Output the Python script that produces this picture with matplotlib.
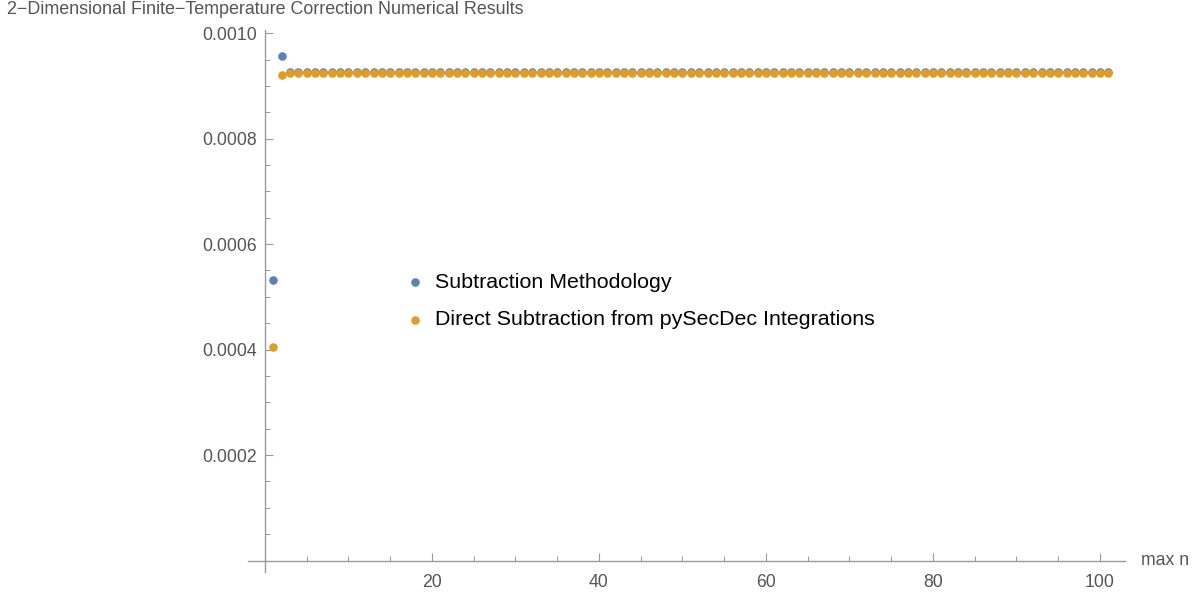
import numpy as np
import matplotlib
matplotlib.use("Agg")
import matplotlib.pyplot as plt
import matplotlib.transforms as mtransforms
from matplotlib.ticker import MultipleLocator, FixedLocator, FuncFormatter

plt.rcParams['font.family'] = ['Liberation Sans', 'DejaVu Sans']

# max n values
n_values = list(range(1, 102))

# Subtraction methodology results
subtraction = [0.000531, 0.000956] + [0.0009255] * 99
# Direct subtraction from pySecDec integrations
direct = [0.000404, 0.000921] + [0.000925] * 99

title_text = "2\u2212Dimensional Finite\u2212Temperature Correction Numerical Results"
series_labels = ["Subtraction Methodology", "Direct Subtraction from pySecDec Integrations"]
x_label = "max n"
y_tick_values = [0.0002, 0.0004, 0.0006, 0.0008, 0.0010]
x_tick_values = [20, 40, 60, 80, 100]

blue = "#5E81B5"
orange = "#E19C24"
axis_gray = "#9a9a9a"
label_gray = "#555555"

W, H = 1200, 592
fig = plt.figure(figsize=(W / 100, H / 100), dpi=100)
ax = fig.add_axes([248.3 / W, (H - 572) / H, (1125 - 248.3) / W, (572 - 30) / H])

ax.scatter(n_values, subtraction, s=38, color=blue, linewidths=0, zorder=3, label=series_labels[0])
ax.scatter(n_values, direct, s=38, color=orange, linewidths=0, zorder=4, label=series_labels[1])

ax.set_xlim(-2, 103)
ax.set_ylim(-0.0000218, 0.001006)

for side in ("top", "right"):
    ax.spines[side].set_visible(False)
ax.spines["left"].set_position(("data", 0))
ax.spines["bottom"].set_position(("data", 0))
for side in ("left", "bottom"):
    ax.spines[side].set_color(axis_gray)
    ax.spines[side].set_linewidth(1.0)

ax.xaxis.set_major_locator(FixedLocator(x_tick_values))
ax.xaxis.set_minor_locator(MultipleLocator(5))
ax.yaxis.set_major_locator(FixedLocator(y_tick_values))
ax.yaxis.set_minor_locator(MultipleLocator(0.00005))
ax.yaxis.set_major_formatter(FuncFormatter(lambda v, p: f"{v:.4f}"))

ax.tick_params(axis="both", which="major", direction="in", length=6, width=0.8,
               color=axis_gray, labelcolor=label_gray, labelsize=12.7)
ax.tick_params(axis="both", which="minor", direction="in", length=3.5, width=0.7,
               color=axis_gray)
ax.tick_params(axis="x", which="major", pad=10)
ax.tick_params(axis="y", which="major", pad=6)

# axis label at the right end of the horizontal axis
ax.text(1.018, 0.0, x_label,
        transform=mtransforms.blended_transform_factory(ax.transAxes, ax.transData),
        ha="left", va="center", fontsize=12.7, color=label_gray)

fig.text(7 / W, 1 - 1 / H, title_text, ha="left", va="top", fontsize=12.9, color=label_gray)

leg = ax.legend(loc="upper left", bbox_to_anchor=(406 / W, 1 - 273 / H),
                bbox_transform=fig.transFigure, frameon=False, fontsize=15.4,
                handlelength=0.8, handletextpad=0.55, labelspacing=0.86,
                borderaxespad=0, borderpad=0, markerscale=1.0)

fig.savefig("out.png", dpi=100)
